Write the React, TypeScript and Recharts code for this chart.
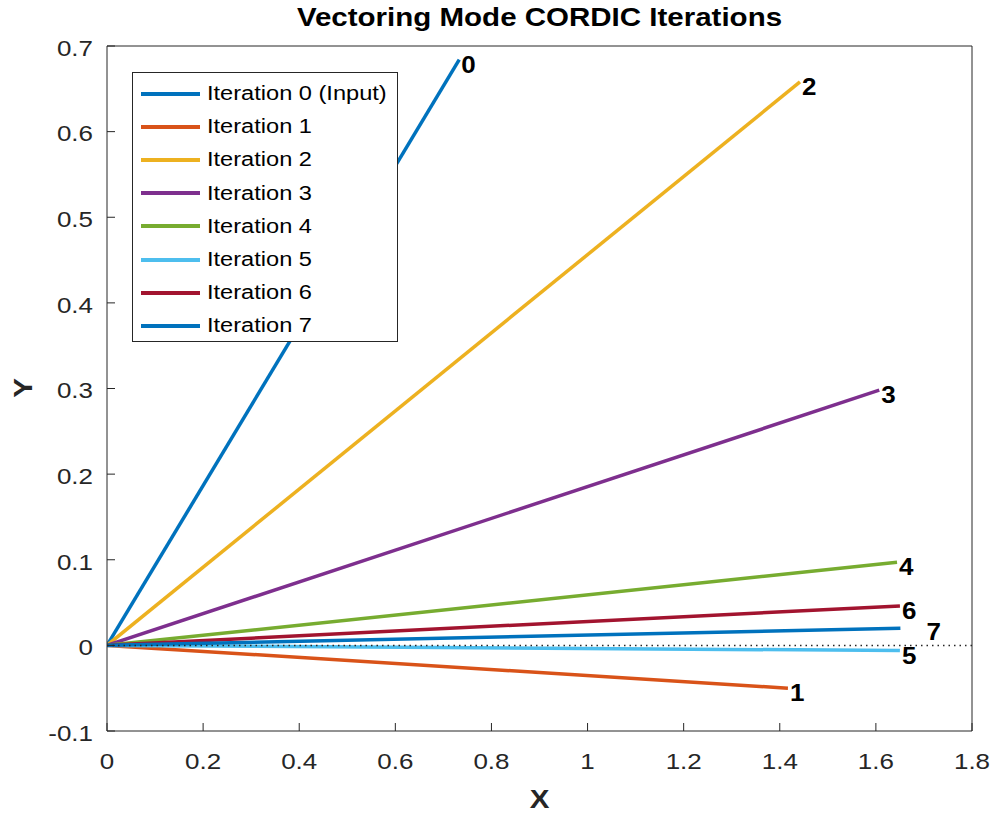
import React from "react";
import { LineChart, Line, XAxis, YAxis, ReferenceLine, Legend } from "recharts";

// end points of each CORDIC vector (all start at the origin)
const iterationNames = [
  "Iteration 0 (Input)",
  "Iteration 1",
  "Iteration 2",
  "Iteration 3",
  "Iteration 4",
  "Iteration 5",
  "Iteration 6",
  "Iteration 7",
];
const endX = [0.733, 1.417, 1.442, 1.607, 1.644, 1.65, 1.65, 1.651];
const endY = [0.684, -0.05, 0.658, 0.298, 0.097, -0.006, 0.046, 0.02];
const endLabels = ["0", "1", "2", "3", "4", "5", "6", "7"];

const xTicks = [0, 0.2, 0.4, 0.6, 0.8, 1, 1.2, 1.4, 1.6, 1.8];
const yTicks = [-0.1, 0, 0.1, 0.2, 0.3, 0.4, 0.5, 0.6, 0.7];

const colors = [
  "#0072BD",
  "#D95319",
  "#EDB120",
  "#7E2F8E",
  "#77AC30",
  "#4DBEEE",
  "#A2142F",
  "#0072BD",
];

const FONT = '"Liberation Sans", Arial, Helvetica, sans-serif';
const AXIS = "#262626";
const STRETCH = 1.18; // reference text is a little wider than Liberation Sans

// label "7" is nudged right so it does not sit on the others
const labelNudge: Record<number, [number, number]> = { 7: [24, -1] };

const fmt = (v: number) => String(Math.round(v * 10) / 10);

function XTick({ x, y, payload }: any) {
  return (
    <g transform={`translate(${x},${y}) scale(${STRETCH},1)`}>
      <text x={0} y={0} dy="0.71em" textAnchor="middle" fill={AXIS} fontSize={22} fontFamily={FONT}>
        {fmt(payload.value)}
      </text>
    </g>
  );
}

function YTick({ x, y, payload }: any) {
  return (
    <g transform={`translate(${x},${y + 2}) scale(${STRETCH},1)`}>
      <text x={0} y={0} dy="0.355em" textAnchor="end" fill={AXIS} fontSize={22} fontFamily={FONT}>
        {fmt(payload.value)}
      </text>
    </g>
  );
}

function LegendBox() {
  return (
    <div
      style={{
        width: 264,
        height: 268,
        border: `1px solid ${AXIS}`,
        background: "#fff",
        fontFamily: FONT,
        position: "relative",
      }}
    >
      {iterationNames.map((name, i) => (
        <div
          key={name}
          style={{
            position: "absolute",
            left: 8,
            top: 4 + i * 33.2,
            height: 33,
            display: "flex",
            alignItems: "center",
          }}
        >
          <div style={{ width: 59, height: 4, background: colors[i] }} />
          <span
            style={{
              marginLeft: 7,
              fontSize: 20,
              color: "#000",
              display: "inline-block",
              transform: `scaleX(${STRETCH})`,
              transformOrigin: "left center",
              whiteSpace: "nowrap",
            }}
          >
            {name}
          </span>
        </div>
      ))}
    </div>
  );
}

export default function App() {
  return (
    <div style={{ position: "absolute", left: 0, top: 0, width: 996, height: 820, background: "#fff" }}>
      <div
        style={{
          position: "absolute",
          top: 3,
          left: 107,
          width: 865,
          textAlign: "center",
          fontFamily: FONT,
          fontWeight: "bold",
          fontSize: 25,
          color: "#000",
          transform: `scaleX(${STRETCH})`,
          whiteSpace: "nowrap",
        }}
      >
        Vectoring Mode CORDIC Iterations
      </div>
      <div
        style={{
          position: "absolute",
          top: 785,
          left: 107,
          width: 865,
          textAlign: "center",
          fontFamily: FONT,
          fontWeight: "bold",
          fontSize: 25,
          color: "#262626",
          transform: `scaleX(${STRETCH})`,
        }}
      >
        X
      </div>
      <div
        style={{
          position: "absolute",
          left: 23,
          top: 388,
          transform: `translate(-50%, -50%) rotate(-90deg) scaleX(${STRETCH})`,
          fontFamily: FONT,
          fontWeight: "bold",
          fontSize: 25,
          color: "#262626",
        }}
      >
        Y
      </div>
      <LineChart
        width={996}
        height={820}
        margin={{ top: 45, right: 23, left: 0, bottom: 0 }}
        style={{ position: "absolute", left: 0, top: 0 }}
      >
        <XAxis
          xAxisId="bottom"
          dataKey="x"
          type="number"
          domain={[0, 1.8]}
          ticks={xTicks}
          allowDataOverflow
          height={89}
          stroke={AXIS}
          tickSize={-8}
          tickMargin={30}
          tick={<XTick />}
        />
        <XAxis
          xAxisId="top"
          orientation="top"
          dataKey="x"
          type="number"
          domain={[0, 1.8]}
          ticks={xTicks}
          allowDataOverflow
          height={1}
          stroke={AXIS}
          tickSize={-8}
          tick={false}
        />
        <YAxis
          yAxisId="left"
          type="number"
          domain={[-0.1, 0.7]}
          ticks={yTicks}
          allowDataOverflow
          width={107}
          stroke={AXIS}
          tickSize={-8}
          tickMargin={22}
          tick={<YTick />}
        />
        <YAxis
          yAxisId="right"
          orientation="right"
          type="number"
          domain={[-0.1, 0.7]}
          ticks={yTicks}
          allowDataOverflow
          width={1}
          stroke={AXIS}
          tickSize={-8}
          tick={false}
        />
        <Legend
          layout="horizontal"
          align="center"
          verticalAlign="middle"
          wrapperStyle={{ left: 132, top: 72, width: 266, height: 270 }}
          content={() => <LegendBox />}
        />
        {endX.map((ex, i) => (
          <Line
            key={i}
            xAxisId="bottom"
            yAxisId="left"
            data={[
              { x: 0, y: 0 },
              { x: ex, y: endY[i] },
            ]}
            dataKey="y"
            name={iterationNames[i]}
            stroke={colors[i]}
            strokeWidth={3.5}
            dot={false}
            activeDot={false}
            isAnimationActive={false}
            label={(p: any) => {
              if (p.index !== 1) return <g />;
              const [dx, dy] = labelNudge[i] || [0, 0];
              return (
                <g transform={`translate(${p.x + 2 + dx},${p.y + 5 + dy}) scale(1.13,1)`}>
                  <text
                    x={0}
                    y={0}
                    dy="0.355em"
                    fontFamily={FONT}
                    fontWeight="bold"
                    fontSize={23}
                    fill="#000"
                  >
                    {endLabels[i]}
                  </text>
                </g>
              );
            }}
          />
        ))}
        <ReferenceLine
          xAxisId="bottom"
          yAxisId="left"
          y={0}
          stroke={AXIS}
          strokeWidth={1.5}
          strokeDasharray="1.5 4"
        />
      </LineChart>
    </div>
  );
}
